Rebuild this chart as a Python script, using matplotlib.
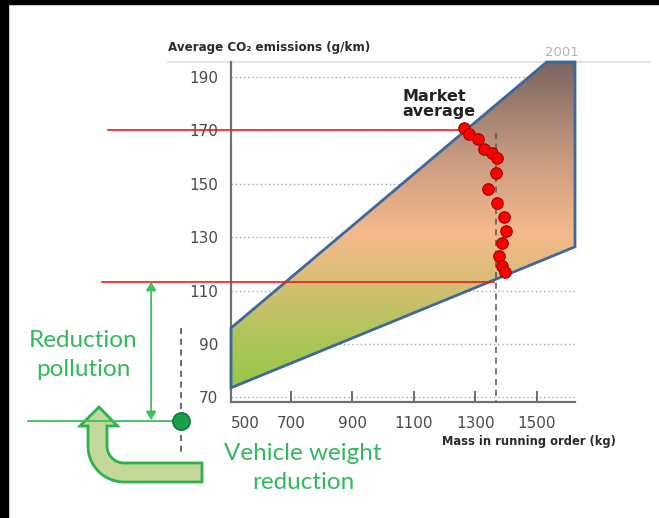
import numpy as np
import matplotlib
matplotlib.use("Agg")
import matplotlib.pyplot as plt
from matplotlib.colors import LinearSegmentedColormap
from matplotlib.patches import Polygon, Rectangle, FancyArrowPatch
from matplotlib.lines import Line2D

# market average points (mass kg, CO2 g/km)
mass = [1265, 1281, 1310, 1330, 1356, 1372, 1368, 1343, 1372, 1394, 1399, 1386, 1378, 1386, 1397]
co2 = [170.8, 168.5, 166.7, 163.0, 161.7, 159.6, 154.2, 148.1, 142.7, 137.5, 132.5, 127.7, 123.1, 119.4, 117.1]

# band of the 2001 fleet
band_mass = [505, 1533, 1625, 1625, 505]
band_co2 = [96.0, 195.6, 195.6, 126.4, 73.6]

avg_mass = 1368
level_before = 170
level_after_market = 113.3
reduced_mass = 342
reduced_co2 = 61

yticks = [70, 90, 110, 130, 150, 170, 190]
xticks = [550, 700, 900, 1100, 1300, 1500]
xticklabels = ["500", "700", "900", "1100", "1300", "1500"]

W, H = 659, 518
fig = plt.figure(figsize=(W / 100, H / 100), dpi=100)
fig.patch.set_facecolor("white")

ax = fig.add_axes([231 / W, 1 - 402 / H, (575 - 231) / W, (402 - 62) / H])
xlim = (505, 1625)
ylim = (68.3, 195.6)

# gradient fill clipped to the band
stops = [(72, "#8fc842"), (95, "#b3c45c"), (115, "#dcbd78"), (132, "#f5b98c"),
         (160, "#c89a80"), (195.6, "#7a6562")]
pos = [(v - ylim[0]) / (ylim[1] - ylim[0]) for v, _ in stops]
pos[0] = 0.0
pos[-1] = 1.0
cmap = LinearSegmentedColormap.from_list("band", list(zip(pos, [c for _, c in stops])))
grad = np.linspace(0, 1, 256).reshape(-1, 1)
img = ax.imshow(grad, extent=[xlim[0], xlim[1], ylim[0], ylim[1]], origin="lower",
                aspect="auto", cmap=cmap, zorder=2)
band = Polygon(list(zip(band_mass, band_co2)), closed=True, facecolor="none",
               edgecolor="#3e689c", linewidth=2, zorder=3, clip_on=False)
ax.add_patch(band)
img.set_clip_path(band)

ax.set_xlim(*xlim)
ax.set_ylim(*ylim)

for y in yticks:
    ax.axhline(y, color="#a8a8a8", linestyle=(0, (1, 2)), linewidth=1, zorder=1)

ax.plot([avg_mass, avg_mass], [169, ylim[0]], color="#555555", linestyle=(0, (4, 3)),
        linewidth=1.1, zorder=4)

# red reference lines
ax.plot([106, 1262], [level_before, level_before], color="#e8201c", linewidth=1.2,
        clip_on=False, zorder=5)
ax.plot([86, 1361], [level_after_market, level_after_market], color="#e8201c",
        linewidth=1.2, clip_on=False, zorder=5)

ax.plot(mass, co2, "o", color="#ff0000", markeredgecolor="#a00000", markersize=8.3,
        markeredgewidth=0.8, zorder=6)

# green annotation
green = "#3dbf62"
ax.plot([-155, reduced_mass], [reduced_co2, reduced_co2], color=green, linewidth=1.3,
        clip_on=False, zorder=5)
ax.plot([reduced_mass, reduced_mass], [96, 49], color="#444444", linestyle=(0, (4, 3)),
        linewidth=1.1, clip_on=False, zorder=5)
ax.add_patch(FancyArrowPatch((245, level_after_market), (245, reduced_co2 + 0.5),
                             arrowstyle="<|-|>,head_length=5,head_width=3",
                             color=green, linewidth=1.3, clip_on=False, zorder=5,
                             shrinkA=0, shrinkB=0))
ax.plot([reduced_mass], [reduced_co2], "o", color="#18a04a", markeredgecolor="#0d6a30",
        markersize=12.5, markeredgewidth=1, clip_on=False, zorder=6)

for s in ["top", "right"]:
    ax.spines[s].set_visible(False)
for s in ["left", "bottom"]:
    ax.spines[s].set_color("#707070")
    ax.spines[s].set_linewidth(1.6)
ax.set_facecolor("none")

ax.set_yticks(yticks)
ax.set_yticklabels([str(v) for v in yticks])
ax.set_xticks(xticks)
ax.set_xticklabels(xticklabels)
ax.tick_params(axis="y", length=0, pad=9, labelsize=11, labelcolor="#4a4a4a")
ax.tick_params(axis="x", direction="in", length=8, width=1.2, color="#555555", pad=10,
               labelsize=11, labelcolor="#4a4a4a")
ax.xaxis.get_major_ticks()[0].tick1line.set_visible(False)

# decorations in pixel coordinates
deco = fig.add_axes([0, 0, 1, 1], zorder=-1)
deco.set_xlim(0, W)
deco.set_ylim(H, 0)
deco.axis("off")
deco.add_patch(Rectangle((0, 0), W, 4, color="black"))
deco.add_patch(Rectangle((0, 0), 8, H, color="black"))
deco.add_line(Line2D([168, 650], [62, 62], color="#dddddd", linewidth=1.2))

# curved arrow
cx, cy, ro, ri = 124, 446, 36, 17
t = np.linspace(np.pi, np.pi / 2, 20)
shape = [(99, 407), (117.5, 426), (cx - ri, 426), (cx - ri, cy)]
shape += [(cx + ri * np.cos(a), cy + ri * np.sin(a)) for a in t]
shape += [(202, cy + ri), (202, cy + ro)]
shape += [(cx + ro * np.cos(a), cy + ro * np.sin(a)) for a in t[::-1]]
shape += [(cx - ro, 426), (80, 426)]
deco.add_patch(Polygon(shape, closed=True, facecolor="#c4d89c", edgecolor="#2db14e",
                       linewidth=2))

deco.text(168, 47, "Average CO₂ emissions (g/km)", fontsize=8.6, fontweight="bold",
          color="#2a2a2a", ha="left", va="center")
deco.text(562, 52, "2001", fontsize=9.5, color="#b4b4b4", ha="center", va="center")
deco.text(442, 442, "Mass in running order (kg)", fontsize=8.3, fontweight="bold",
          color="#2a2a2a", ha="left", va="center")
deco.text(402, 104, "Market\naverage", fontsize=11.5, fontweight="bold", color="#222222",
          ha="left", va="center", linespacing=0.95)
deco.text(83, 355, "Reduction\npollution", fontsize=17.5, color="#33b85c", family="Lato",
          ha="center", va="center", linespacing=1.45)
deco.text(303, 468, "Vehicle weight\nreduction", fontsize=17.5, color="#33b85c",
          family="Lato", ha="center", va="center", linespacing=1.45)

fig.savefig("out.png", dpi=100)
